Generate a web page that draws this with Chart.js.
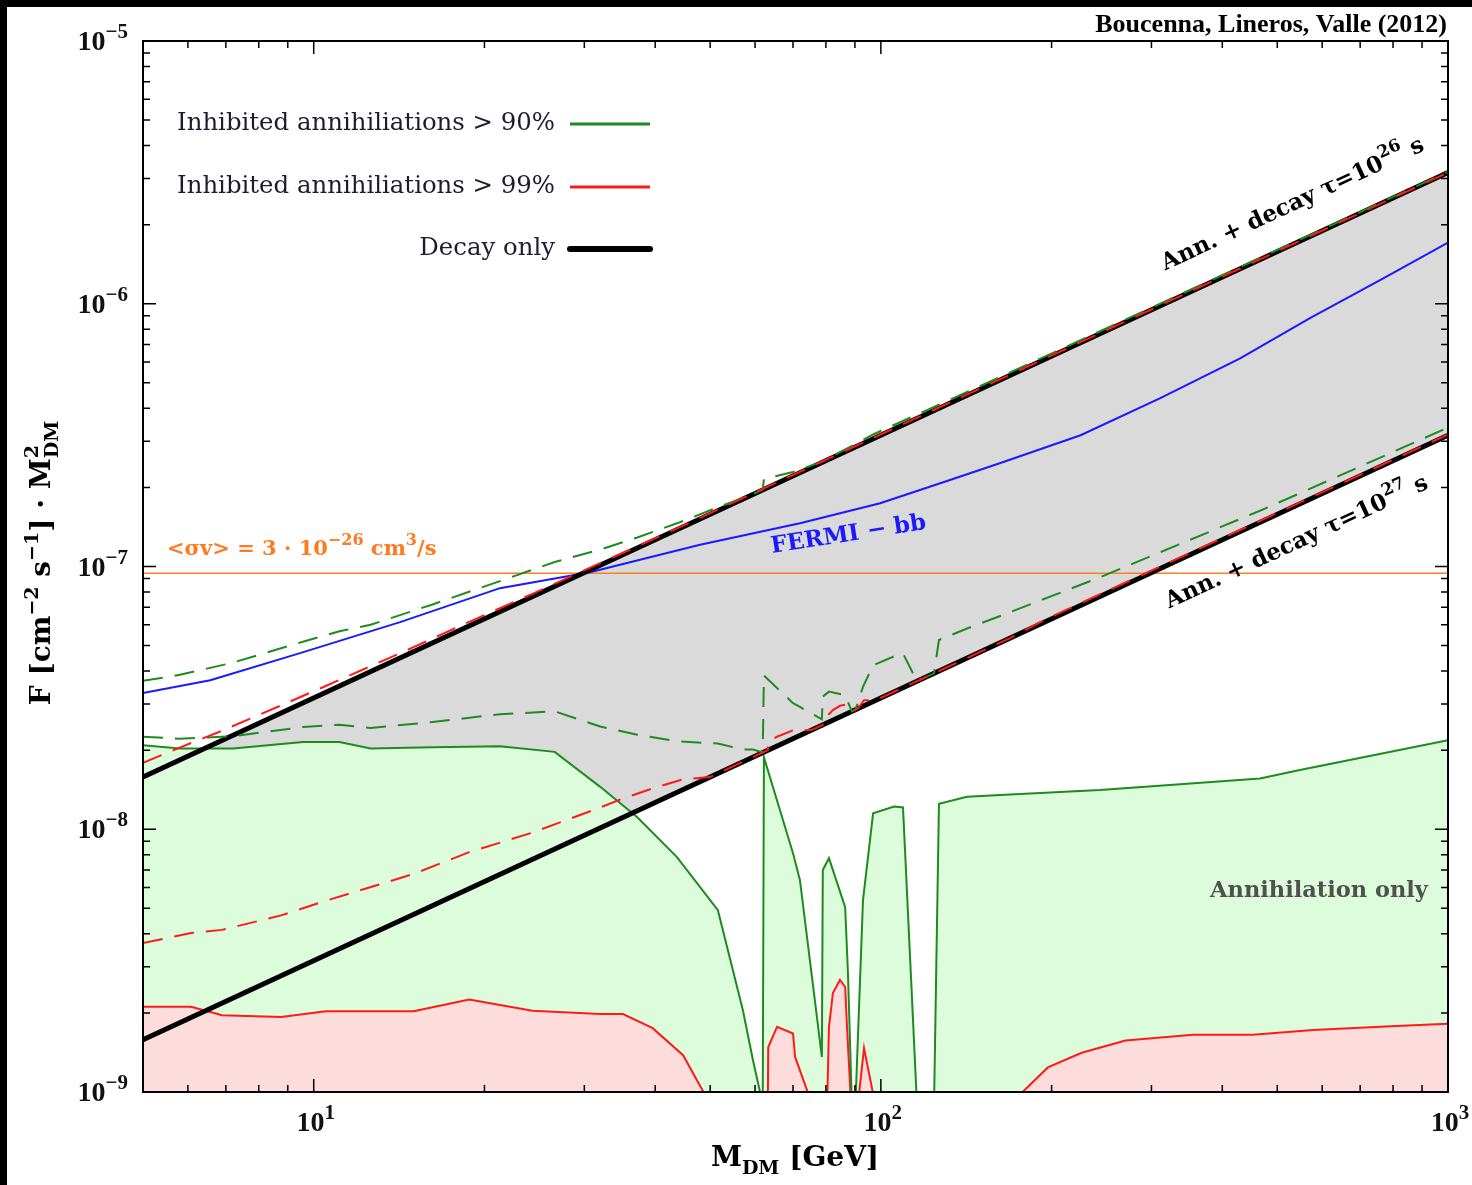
<!DOCTYPE html>
<html>
<head>
<meta charset="utf-8">
<title>Inhibited annihilations vs decay</title>
<script src="https://cdn.jsdelivr.net/npm/chart.js@4.4.1/dist/chart.umd.min.js"></script>
<style>
  html, body { margin: 0; padding: 0; background: #000; }
  #wrap { position: absolute; left: 7px; top: 7px; width: 1465px; height: 1178px; background: #fff; }
</style>
</head>
<body>
<div id="wrap"><canvas id="fluxChart"></canvas></div>
<script>
  "use strict";

  // decay-only lines, tau = 1e26 s and 1e27 s
  const massDecay = [5, 1000];
  const decayTau26 = [1.58e-8, 3.16e-6];
  const decayTau27 = [1.58e-9, 3.16e-7];

  // annihilation only, inhibited > 90%
  const massGreen = [5.0, 5.81, 7.21, 9.57, 11.1, 12.6, 16.2, 21.3, 26.6, 32.0, 37.2, 43.7, 51.6, 57.1, 59.5, 61.9, 62.2,
    70.0, 72.0, 78.7, 79.0, 81.0, 86.5, 87.5, 88.9, 90.2, 93.0, 96.9, 105.5, 109.4, 115.8, 124.1, 126.6, 141.9, 162.3,
    243.5, 466, 548, 1000];
  const annGreen = [2.09e-8, 2.03e-8, 2.03e-8, 2.15e-8, 2.15e-8, 2.03e-8, 2.05e-8, 2.07e-8, 1.97e-8, 1.45e-8, 1.11e-8,
    7.83e-9, 4.92e-9, 2.05e-9, 1.32e-9, 9e-10, 1.88e-8, 8.11e-9, 6.40e-9, 1.36e-9, 6.99e-9, 7.76e-9, 5.05e-9, 2.83e-9,
    9e-10, 9e-10, 5.37e-9, 1.15e-8, 1.22e-8, 1.21e-8, 9e-10, 9e-10, 1.25e-8, 1.33e-8, 1.35e-8, 1.41e-8, 1.56e-8,
    1.68e-8, 2.18e-8];

  // annihilation only, inhibited > 99%
  const massRed = [5.0, 6.08, 6.89, 8.76, 10.5, 15.0, 18.8, 24.3, 32.0, 35.1, 39.6, 44.8, 50.0, 63.2, 63.3, 65.6, 70.0,
    70.6, 75.6, 80.4, 81.0, 82.3, 84.7, 86.5, 87.1, 88.6, 91.1, 93.4, 97.7, 169, 197, 226, 270, 355, 453, 578, 793, 1000];
  const annRed = [2.11e-9, 2.11e-9, 1.96e-9, 1.93e-9, 2.03e-9, 2.03e-9, 2.25e-9, 2.04e-9, 1.98e-9, 1.98e-9, 1.75e-9,
    1.38e-9, 9e-10, 9e-10, 1.48e-9, 1.77e-9, 1.67e-9, 1.36e-9, 9e-10, 9e-10, 1.77e-9, 2.38e-9, 2.67e-9, 2.51e-9,
    1.82e-9, 9e-10, 9e-10, 1.47e-9, 9e-10, 9e-10, 1.24e-9, 1.41e-9, 1.57e-9, 1.65e-9, 1.65e-9, 1.72e-9, 1.78e-9, 1.82e-9];

  // ann + decay, > 90%
  const massGreenUp = [5.0, 5.81, 7.21, 9.57, 11.1, 12.6, 16.2, 21.3, 26.6, 32.0, 37.2, 43.7, 51.6, 57.1, 61.9, 62.2,
    70.0, 72.0, 78.7, 96.9, 126.6, 162.3, 1000];
  const fluxGreenUp = [3.67e-8, 3.87e-8, 4.31e-8, 5.17e-8, 5.67e-8, 6.00e-8, 7.17e-8, 8.80e-8, 1.04e-7, 1.16e-7,
    1.29e-7, 1.46e-7, 1.68e-7, 1.82e-7, 1.96e-7, 2.15e-7, 2.29e-7, 2.34e-7, 2.50e-7, 3.18e-7, 4.13e-7, 5.26e-7, 3.18e-6];
  const massGreenLow = massGreen;
  const fluxGreenLow = [2.25e-8, 2.21e-8, 2.26e-8, 2.45e-8, 2.50e-8, 2.43e-8, 2.56e-8, 2.74e-8, 2.81e-8, 2.46e-8,
    2.29e-8, 2.16e-8, 2.12e-8, 2.01e-8, 2.01e-8, 1.96e-8, 3.85e-8, 3.02e-8, 2.92e-8, 2.62e-8, 3.20e-8, 3.34e-8,
    3.24e-8, 3.05e-8, 2.81e-8, 2.85e-8, 3.48e-8, 4.21e-8, 4.55e-8, 4.67e-8, 3.66e-8, 3.92e-8, 5.25e-8, 5.81e-8,
    6.48e-8, 9.10e-8, 1.63e-7, 1.90e-7, 3.38e-7];

  // ann + decay, > 99%
  const massRedUp = [5.0, 6.08, 6.89, 8.76, 10.5, 15.0, 18.8, 24.3, 32.0, 44.8, 1000];
  const fluxRedUp = [1.79e-8, 2.13e-8, 2.37e-8, 2.96e-8, 3.51e-8, 4.93e-8, 6.16e-8, 7.87e-8, 1.03e-7, 1.43e-7, 3.16e-6];
  const massRedLow = [5.0, 6.08, 6.89, 8.76, 10.5, 15.0, 18.8, 24.3, 32.0, 35.1, 39.6, 44.8, 50.0, 63.2, 63.3, 65.6,
    70.0, 70.6, 75.6, 80.4, 81.0, 82.3, 84.7, 86.5, 87.1, 88.6, 91.1, 93.4, 97.7, 169, 197, 270, 453, 1000];
  const fluxRedLow = [3.69e-9, 4.03e-9, 4.14e-9, 4.70e-9, 5.34e-9, 6.76e-9, 8.18e-9, 9.71e-9, 1.21e-8, 1.31e-8,
    1.43e-8, 1.55e-8, 1.58e-8, 2.00e-8, 2.15e-8, 2.25e-8, 2.38e-8, 2.37e-8, 2.39e-8, 2.54e-8, 2.74e-8, 2.84e-8,
    2.95e-8, 2.98e-8, 2.93e-8, 2.80e-8, 2.88e-8, 3.10e-8, 3.09e-8, 5.34e-8, 6.35e-8, 8.69e-8, 1.45e-7, 3.18e-7];

  // FERMI bb limit
  const massFermi = [5.0, 6.57, 9.46, 14.2, 21.3, 30.7, 48.0, 72.0, 99.7, 132, 162, 225, 311, 430, 571, 759, 1000];
  const fermiLimit = [3.30e-8, 3.69e-8, 4.68e-8, 6.14e-8, 8.27e-8, 9.51e-8, 1.21e-7, 1.46e-7, 1.74e-7, 2.13e-7,
    2.47e-7, 3.16e-7, 4.37e-7, 6.20e-7, 8.81e-7, 1.23e-6, 1.71e-6];

  // thermal cross section reference
  const massSigma = [5, 1000];
  const sigmaLine = [9.43e-8, 9.43e-8];

  // axis decades
  const xDecades = [1, 2, 3];
  const yDecades = [-9, -8, -7, -6, -5];

  const serif = "'DejaVu Serif', 'Liberation Serif', serif";
  const timesLike = "'Liberation Serif', serif";
  const font = (size, bold, fam) => (bold ? "bold " : "") + size + "px " + (fam || serif);
  const pts = (xs, ys) => xs.map((x, i) => ({ x: x, y: ys[i] }));

  function line(xs, ys, color, width, order, dash) {
    return {
      data: pts(xs, ys),
      borderColor: color,
      borderWidth: width,
      borderDash: dash || [],
      fill: false,
      order: order,
    };
  }

  function area(xs, ys, color, fill, order) {
    return {
      data: pts(xs, ys),
      borderColor: "rgba(0,0,0,0)",
      borderWidth: 0,
      backgroundColor: color,
      fill: fill,
      order: order,
    };
  }

  // draws a run of text pieces (raised / lowered pieces for super- and subscripts)
  function drawRun(ctx, pieces, x, y, align) {
    let prev = 0, end = 0;
    const xs = pieces.map(p => {
      ctx.font = font(p.size, p.bold, p.fam);
      const w = ctx.measureText(p.text).width;
      const px = p.stack ? prev : end;
      prev = px;
      end = Math.max(end, px + w);
      return px;
    });
    const off = align === "right" ? -end : align === "center" ? -end / 2 : 0;
    pieces.forEach((p, i) => {
      ctx.font = font(p.size, p.bold, p.fam);
      ctx.fillText(p.text, x + off + xs[i], y - (p.rise || 0));
    });
  }

  const datasets = [
    area(massDecay, decayTau26, "#dadada", 1, 10),          // 0 band between decay lines
    line(massDecay, decayTau27, "#000", 5, 4),               // 1
    line(massDecay, decayTau26, "#000", 5, 4),               // 2
    area(massGreen, annGreen, "#dcfcdc", "start", 9),        // 3
    area(massRed, annRed, "#fddcdc", "start", 8),            // 4
    line(massSigma, sigmaLine, "#ff7f27", 1.5, 7),           // 5
    line(massGreen, annGreen, "#1f8a1f", 2, 6),              // 6
    line(massRed, annRed, "#ff1a1a", 2, 6),                  // 7
    line(massFermi, fermiLimit, "#1a1aff", 2, 5),            // 8
    line(massGreenUp, fluxGreenUp, "#1f8a1f", 2, 3, [20, 12]),
    line(massGreenLow, fluxGreenLow, "#1f8a1f", 2, 3, [20, 12]),
    line(massRedUp, fluxRedUp, "#ff1a1a", 2, 2, [20, 12]),
    line(massRedLow, fluxRedLow, "#ff1a1a", 2, 2, [20, 12]),
  ];

  // frame, inward ticks and decade labels
  const frameTicks = {
    id: "frameTicks",
    afterDraw(chart) {
      const { ctx, chartArea: a, scales } = chart;
      const sx = scales.x, sy = scales.y;
      ctx.save();
      ctx.strokeStyle = "#000";
      ctx.fillStyle = "#111";
      ctx.lineWidth = 1.5;
      ctx.beginPath();
      for (let e = 0; e <= 3; e++) {
        for (let k = 1; k <= 9; k++) {
          const v = k * Math.pow(10, e);
          if (v < 5 || v > 1000) continue;
          const px = sx.getPixelForValue(v);
          const len = k === 1 ? 13 : 7;
          ctx.moveTo(px, a.bottom); ctx.lineTo(px, a.bottom - len);
          ctx.moveTo(px, a.top); ctx.lineTo(px, a.top + len);
        }
      }
      for (let e = -9; e <= -5; e++) {
        for (let k = 1; k <= 9; k++) {
          const v = k * Math.pow(10, e);
          if (v > 1e-5) continue;
          const py = sy.getPixelForValue(v);
          const len = k === 1 ? 13 : 7;
          ctx.moveTo(a.left, py); ctx.lineTo(a.left + len, py);
          ctx.moveTo(a.right, py); ctx.lineTo(a.right - len, py);
        }
      }
      ctx.stroke();
      ctx.lineWidth = 2;
      ctx.strokeRect(a.left, a.top, a.right - a.left, a.bottom - a.top);

      ctx.textBaseline = "alphabetic";
      yDecades.forEach(e => {
        const py = sy.getPixelForValue(Math.pow(10, e));
        drawRun(ctx, [
          { text: "10", size: 28, bold: true, fam: timesLike },
          { text: "\u2212" + Math.abs(e), size: 21, bold: true, rise: 12, fam: timesLike },
        ], a.left - 15, py + 9, "right");
      });
      xDecades.forEach(e => {
        const px = sx.getPixelForValue(Math.pow(10, e));
        drawRun(ctx, [
          { text: "10", size: 28, bold: true, fam: timesLike },
          { text: String(e), size: 21, bold: true, rise: 12, fam: timesLike },
        ], px + 2, a.bottom + 39, "center");
      });
      ctx.restore();
    },
  };

  // legend, titles and labels on the plot
  const labels = {
    id: "labels",
    afterDraw(chart) {
      const { ctx, scales } = chart;
      const sx = scales.x, sy = scales.y;
      ctx.save();

      // source
      ctx.fillStyle = "#000";
      ctx.textBaseline = "alphabetic";
      ctx.textAlign = "left";
      drawRun(ctx, [{ text: "Boucenna, Lineros, Valle (2012)", size: 26, bold: true, fam: timesLike }], 1440, 25, "right");

      // legend
      const rows = [
        ["Inhibited annihiliations > 90%", "#1f8a1f", 3, 117],
        ["Inhibited annihiliations > 99%", "#ff1a1a", 3, 180],
        ["Decay only", "#000", 6, 242],
      ];
      ctx.textBaseline = "middle";
      rows.forEach(r => {
        ctx.fillStyle = "#1c1c30";
        ctx.font = font(24.4, false);
        ctx.textAlign = "right";
        ctx.fillText(r[0], 548, r[3]);
        ctx.beginPath();
        ctx.strokeStyle = r[1];
        ctx.lineWidth = r[2];
        ctx.lineCap = r[2] > 4 ? "round" : "butt";
        ctx.moveTo(563, r[3]);
        ctx.lineTo(643, r[3]);
        ctx.stroke();
      });
      ctx.textAlign = "left";
      ctx.textBaseline = "alphabetic";
      ctx.lineCap = "butt";

      // thermal cross section
      ctx.fillStyle = "#ff7a1f";
      drawRun(ctx, [
        { text: "<\u03c3v> = 3 \u00b7 10", size: 21, bold: true },
        { text: "\u221226", size: 16, bold: true, rise: 10 },
        { text: " cm", size: 21, bold: true },
        { text: "3", size: 16, bold: true, rise: 10 },
        { text: "/s", size: 21, bold: true },
      ], 160, 548, "left");

      // FERMI label
      ctx.fillStyle = "#1a1aff";
      ctx.save();
      ctx.translate(sx.getPixelForValue(64.3), sy.getPixelForValue(1.125e-7));
      ctx.rotate(-0.155);
      drawRun(ctx, [{ text: "FERMI \u2212 bb", size: 23, bold: true }], 0, 0, "left");
      ctx.restore();

      // labels along the decay lines
      ctx.fillStyle = "#000";
      const along = (ys, t, offset, exp) => {
        const x0 = sx.getPixelForValue(massDecay[0]), x1 = sx.getPixelForValue(massDecay[1]);
        const y0 = sy.getPixelForValue(ys[0]), y1 = sy.getPixelForValue(ys[1]);
        ctx.save();
        ctx.translate(x0 + (x1 - x0) * t, y0 + (y1 - y0) * t);
        ctx.rotate(Math.atan2(y1 - y0, x1 - x0));
        drawRun(ctx, [
          { text: "Ann. + decay \u03c4=10", size: 23, bold: true },
          { text: exp, size: 17, bold: true, rise: 11 },
          { text: " s", size: 23, bold: true },
        ], 0, offset, "left");
        ctx.restore();
      };
      along(decayTau26, 0.793, -30, "26");
      along(decayTau27, 0.7735, 40, "27");

      ctx.fillStyle = "#505050";
      drawRun(ctx, [{ text: "Annihilation only", size: 22.5, bold: true }], 1312, 890, "center");

      // axis titles
      ctx.fillStyle = "#000";
      drawRun(ctx, [
        { text: "M", size: 28, bold: true },
        { text: "DM", size: 19, bold: true, rise: -8 },
        { text: " [GeV]", size: 28, bold: true },
      ], 788, 1159, "center");

      ctx.save();
      ctx.translate(43, 556);
      ctx.rotate(-Math.PI / 2);
      drawRun(ctx, [
        { text: "F [cm", size: 28, bold: true },
        { text: "\u22122", size: 19, bold: true, rise: 12 },
        { text: " s", size: 28, bold: true },
        { text: "\u22121", size: 19, bold: true, rise: 12 },
        { text: "] \u00b7 M", size: 28, bold: true },
        { text: "2", size: 19, bold: true, rise: 12 },
        { text: "DM", size: 19, bold: true, rise: -8, stack: true },
      ], 0, 0, "center");
      ctx.restore();

      ctx.restore();
    },
  };

  new Chart(document.getElementById("fluxChart"), {
    type: "line",
    data: { datasets: datasets },
    options: {
      responsive: true,
      maintainAspectRatio: false,
      animation: false,
      events: [],
      layout: { padding: { left: 136, top: 34, right: 24, bottom: 93 } },
      elements: { point: { radius: 0 }, line: { tension: 0 } },
      scales: {
        x: { type: "logarithmic", min: 5, max: 1000, display: false },
        y: { type: "logarithmic", min: 1e-9, max: 1e-5, display: false },
      },
      plugins: { legend: { display: false }, tooltip: { enabled: false } },
    },
    plugins: [frameTicks, labels],
  });
</script>
</body>
</html>
